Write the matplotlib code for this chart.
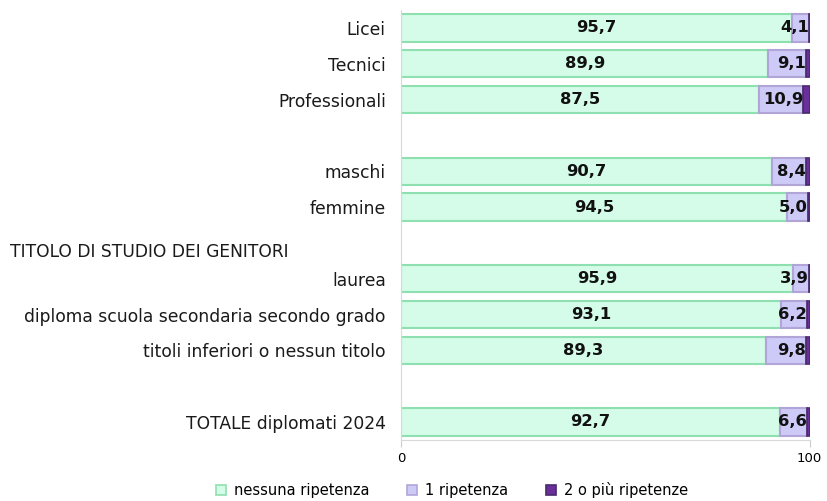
import matplotlib.pyplot as plt
import numpy as np
from matplotlib.lines import Line2D

# righe del grafico (stringa vuota = riga di separazione)
categories = ["Licei", "Tecnici", "Professionali", "",
              "maschi", "femmine", "",
              "laurea", "diploma scuola secondaria secondo grado",
              "titoli inferiori o nessun titolo", "",
              "TOTALE diplomati 2024"]
nessuna = [95.7, 89.9, 87.5, None, 90.7, 94.5, None, 95.9, 93.1, 89.3, None, 92.7]
una = [4.1, 9.1, 10.9, None, 8.4, 5.0, None, 3.9, 6.2, 9.8, None, 6.6]
due_piu = [0.2, 1.0, 1.6, None, 0.9, 0.5, None, 0.2, 0.7, 0.9, None, 0.7]
header = "TITOLO DI STUDIO DEI GENITORI"
series_names = ["nessuna ripetenza", "1 ripetenza", "2 o più ripetenze"]

fills = ["#d5fce8", "#cdcaf8", "#6b2f9c"]
edges = ["#8fe0b0", "#b1a5d8", "#4a2a6c"]

plt.rcParams['font.family'] = ['DejaVu Sans']

fig = plt.figure(figsize=(8.27, 5.01), dpi=100)
ax = fig.add_axes([0.485, 0.122, 0.494, 0.858])

idx = [i for i, v in enumerate(nessuna) if v is not None]
y = np.array(idx)
a = np.array([nessuna[i] for i in idx])
b = np.array([una[i] for i in idx])
c = np.array([due_piu[i] for i in idx])

h = 0.76
ax.barh(y, a, height=h, color=fills[0], edgecolor=edges[0], linewidth=1.5)
ax.barh(y, b, left=a, height=h, color=fills[1], edgecolor=edges[1], linewidth=1.5)
ax.barh(y, c, left=a + b, height=h, color=fills[2], edgecolor=edges[2], linewidth=1.2)

fmt = lambda v: f"{v:.1f}".replace(".", ",")
for yi, ai, bi in zip(y, a, b):
    ax.text(ai / 2, yi, fmt(ai), ha="center", va="center",
            fontsize=11.8, fontweight="bold", color="#111111")
    ax.text(ai + bi, yi, fmt(bi), ha="right", va="center",
            fontsize=11.8, fontweight="bold", color="#111111")

ax.set_ylim(len(categories) - 0.5, -0.5)
ax.set_xlim(0, 100)
ax.set_yticks(range(len(categories)))
ax.set_yticklabels(categories, fontsize=12.3, color="#1a1a1a")
ax.tick_params(axis="y", length=0, pad=11)
ax.set_xticks([0, 100])
ax.set_xticklabels(["0", "100"], fontsize=9.5)
ax.tick_params(axis="x", length=5, color="#cccccc", pad=4)

for s in ["top", "right"]:
    ax.spines[s].set_visible(False)
ax.spines["left"].set_color("#d9d9d9")
ax.spines["bottom"].set_color("#d9d9d9")

fig.text(10 / 827, 1 - 252 / 501, header, ha="left", va="center",
         fontsize=12.3, color="#1a1a1a")

handles = [Line2D([], [], marker="s", linestyle="none", markersize=7.5,
                  markerfacecolor=fills[i], markeredgecolor=edges[i], markeredgewidth=1.2)
           for i in range(3)]
fig.legend(handles, series_names, loc="center", bbox_to_anchor=(451 / 827, 1 - 490 / 501),
           ncol=3, frameon=False, fontsize=10.5, handlelength=1.0,
           handletextpad=0.4, columnspacing=2.4)

fig.savefig("out.png", dpi=100)
